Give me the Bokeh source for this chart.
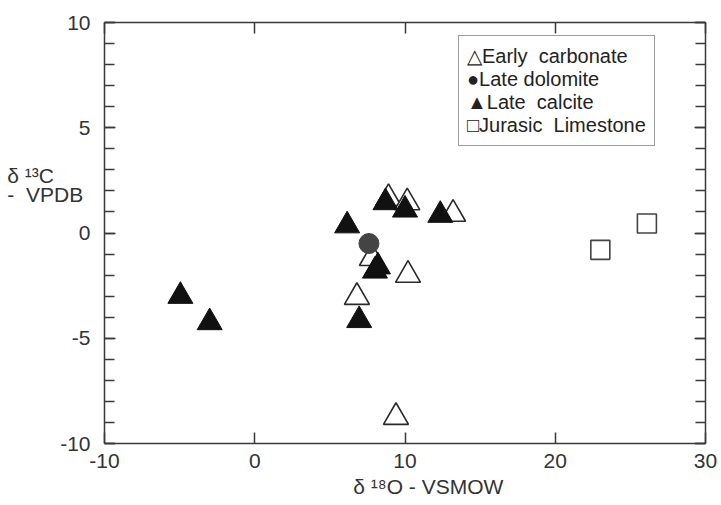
from bokeh.plotting import figure
from bokeh.models import (Range1d, LinearAxis, FixedTicker, Legend, LegendItem,
                          PrintfTickFormatter)
from bokeh.embed import file_html
from bokeh.resources import INLINE

# Data (delta 18O VSMOW, delta 13C VPDB)
early_x = [8.9, 10.15, 13.2, 7.8, 10.2, 6.8, 9.4]
early_y = [1.65, 1.45, 0.9, -1.2, -2.0, -3.05, -8.75]
dolo_x = [7.6]
dolo_y = [-0.5]
calc_x = [-4.95, -3.0, 6.15, 6.95, 8.2, 8.0, 8.7, 10.0, 12.35]
calc_y = [-3.0, -4.25, 0.35, -4.15, -1.6, -1.8, 1.45, 1.1, 0.85]
jur_x = [26.1, 23.0]
jur_y = [0.45, -0.8]
labels = ["\u25b3Early\u00a0\u00a0carbonate", "\u25cfLate dolomite",
          "\u25b2Late\u00a0 calcite", "\u25a1Jurasic\u00a0 Limestone"]
y_ticks = [-10, -5, 0, 5, 10]
y_minor = list(range(-10, 11))
x_ticks = [-10, 0, 10, 20, 30]
y_title = ["\u03b4 \u00b9\u00b3C", "-\u00a0 VPDB"]
x_title = "\u03b4 \u00b9\u2078O - VSMOW"

FONT = "Liberation Sans"
TXT = "#333333"
AX = "#3a3a3a"
FS = "21px"
NB = "\u00a0"

p = figure(width=721, height=505, output_backend="svg", toolbar_location=None,
           x_range=Range1d(-10, 30), y_range=Range1d(-10, 10),
           x_axis_location=None, y_axis_location=None,
           min_border_left=104, min_border_right=16, min_border_top=22, min_border_bottom=62)
p.grid.visible = False
p.outline_line_color = None
p.background_fill_color = "white"
p.border_fill_color = "white"


def style(ax, ticks, minor, labels_on, standoff):
    ax.ticker = FixedTicker(ticks=ticks, minor_ticks=minor)
    ax.formatter = PrintfTickFormatter(format="%d")
    ax.axis_line_color = AX
    ax.axis_line_width = 1.5
    ax.major_tick_line_color = AX
    ax.minor_tick_line_color = AX
    ax.major_tick_line_width = 1.5
    ax.minor_tick_line_width = 1.5
    ax.major_tick_in = 11
    ax.major_tick_out = 0
    ax.minor_tick_in = 10
    ax.minor_tick_out = 0
    ax.major_label_text_font = FONT
    ax.major_label_text_font_size = FS
    ax.major_label_text_color = TXT
    ax.major_label_standoff = standoff
    ax.axis_label_text_font = FONT
    ax.axis_label_text_font_size = FS
    ax.axis_label_text_font_style = "normal"
    ax.axis_label_text_color = TXT
    if not labels_on:
        ax.major_label_text_font_size = "0px"
        ax.major_label_text_alpha = 0


left = LinearAxis(); style(left, y_ticks, y_minor, True, 14)
right = LinearAxis(); style(right, y_ticks, y_minor, False, 0)
bottom = LinearAxis(); style(bottom, x_ticks, [], True, 10)
top = LinearAxis(); style(top, x_ticks, [], False, 0)

# y title: horizontal, two lines, raised above the frame centre with blank lines
left.axis_label = "\n".join([y_title[0] + NB * 5, y_title[1]] + [NB] * 5)
left.axis_label_orientation = "horizontal"
left.axis_label_text_line_height = 0.84
left.axis_label_standoff = -26
# x title, shifted right of the frame centre
bottom.axis_label = NB * 8 + x_title
bottom.axis_label_standoff = 4

p.add_layout(left, "left")
p.add_layout(right, "right")
p.add_layout(bottom, "below")
p.add_layout(top, "above")

r_early = p.scatter(early_x, early_y, marker="triangle", size=25, fill_color="white",
                    line_color="#2a2a2a", line_width=1.6)
r_dolo = p.scatter(dolo_x, dolo_y, marker="circle", size=20, fill_color="#444444",
                   line_color="#444444", line_width=1)
r_calc = p.scatter(calc_x, calc_y, marker="triangle", size=25, fill_color="#111111",
                   line_color="#111111", line_width=1)
r_jur = p.scatter(jur_x, jur_y, marker="square", size=19, fill_color="white",
                  line_color="#444444", line_width=1.6)

legend = Legend(items=[LegendItem(label=labels[0], renderers=[r_early]),
                       LegendItem(label=labels[1], renderers=[r_dolo]),
                       LegendItem(label=labels[2], renderers=[r_calc]),
                       LegendItem(label=labels[3], renderers=[r_jur])],
                location=(354, 297))
legend.label_text_font = FONT
legend.label_text_font_size = "20px"
legend.label_text_color = "#222222"
legend.label_height = 20
legend.glyph_height = 20
legend.glyph_width = 0
legend.label_standoff = 0
try:
    legend.spacing = -2
except Exception:
    legend.spacing = 0
legend.padding = 8
legend.margin = 0
legend.border_line_color = AX
legend.border_line_width = 1.5
legend.background_fill_alpha = 1
p.add_layout(legend)

open("out.html", "w").write(file_html(p, INLINE))
